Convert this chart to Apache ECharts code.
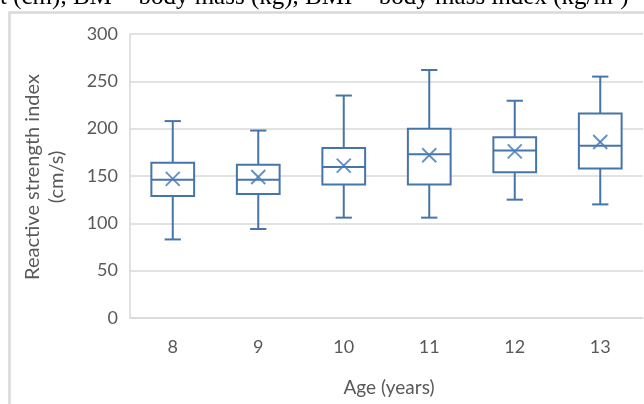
<!DOCTYPE html>
<html><head><meta charset="utf-8">
<script src="https://cdn.jsdelivr.net/npm/echarts@6/dist/echarts.min.js"></script>
<style>html,body{margin:0;padding:0;background:#fff}#c{width:644px;height:404px}</style>
</head><body><div id="c"></div>
<script>
// Data
const ages = ['8', '9', '10', '11', '12', '13'];
const whiskerLow = [83, 94, 106, 106, 125, 120];
const q1 = [129, 131, 141, 141, 154, 158];
const median = [146, 146, 159.5, 173, 177, 182];
const q3 = [164, 162, 179.5, 200, 191, 216];
const whiskerHigh = [208, 198, 235, 262, 229.5, 255];
const mean = [147, 149, 161, 172, 176, 186];
const yMin = 0, yMax = 300, yStep = 50;
const yTitle = 'Reactive strength index\n(cm/s)';
const xTitle = 'Age (years)';
const topText = 't (cm), BM = body mass (kg), BMI = body mass index (kg/m²)';

const boxData = ages.map((a, i) => [i, whiskerLow[i], q1[i], median[i], q3[i], whiskerHigh[i], mean[i]]);

const BLUE = '#4675A9';
const GRAY_TXT = '#595959';
const GRID = '#D9D9D9';

const chart = echarts.init(document.getElementById('c'), null, {renderer: 'canvas'});
chart.setOption({
  backgroundColor: '#fff',
  animation: false,
  grid: {left: 130, right: 1, top: 34, bottom: 86, containLabel: false},
  xAxis: {
    type: 'category', data: ages,
    axisLine: {show: true, lineStyle: {color: GRID, width: 1.5}},
    axisTick: {show: false},
    axisLabel: {color: GRAY_TXT, fontFamily: 'Lato', fontSize: 18, margin: 20},
    splitLine: {show: false}
  },
  yAxis: {
    type: 'value', min: yMin, max: yMax, interval: yStep,
    axisLine: {show: true, lineStyle: {color: GRID, width: 1.5}},
    axisTick: {show: false},
    axisLabel: {color: GRAY_TXT, fontFamily: 'Lato', fontSize: 18, margin: 12},
    splitLine: {show: true, lineStyle: {color: GRID, width: 1.5}}
  },
  graphic: [
    {type: 'rect', silent: true, shape: {x: 9.5, y: 12.5, width: 800, height: 600},
     style: {fill: 'none', stroke: GRID, lineWidth: 2.5}},
    {type: 'text', x: 0, y: -3, silent: true,
     style: {text: topText, font: '25px "Liberation Serif"', fill: '#000', align: 'left', verticalAlign: 'middle'}},
    {type: 'text', x: 45, y: 177, rotation: Math.PI / 2, silent: true,
     style: {text: yTitle, font: '20px Lato', fill: GRAY_TXT, align: 'center', verticalAlign: 'middle', lineHeight: 24}},
    {type: 'text', x: 389, y: 388, silent: true,
     style: {text: xTitle, font: '19px Lato', fill: GRAY_TXT, align: 'center', verticalAlign: 'middle'}}
  ],
  series: [{
    type: 'custom',
    data: boxData,
    encode: {x: 0, y: [1, 2, 3, 4, 5, 6]},
    renderItem: function (params, api) {
      const i = api.value(0);
      const band = api.size([1, 0])[0];
      const bw = band * 0.5, cw = band * 0.19, mx = 7;
      const x = api.coord([i, 0])[0];
      const yLo = api.coord([i, api.value(1)])[1];
      const yQ1 = api.coord([i, api.value(2)])[1];
      const yMed = api.coord([i, api.value(3)])[1];
      const yQ3 = api.coord([i, api.value(4)])[1];
      const yHi = api.coord([i, api.value(5)])[1];
      const yMean = api.coord([i, api.value(6)])[1];
      const st = {stroke: BLUE, lineWidth: 2, fill: 'none'};
      const mst = {stroke: '#4A7EBB', lineWidth: 2, opacity: 0.85};
      return {
        type: 'group',
        children: [
          {type: 'line', shape: {x1: x, y1: yQ1, x2: x, y2: yLo}, style: st},
          {type: 'line', shape: {x1: x - cw / 2, y1: yLo, x2: x + cw / 2, y2: yLo}, style: st},
          {type: 'line', shape: {x1: x, y1: yQ3, x2: x, y2: yHi}, style: st},
          {type: 'line', shape: {x1: x - cw / 2, y1: yHi, x2: x + cw / 2, y2: yHi}, style: st},
          {type: 'rect', shape: {x: x - bw / 2, y: yQ3, width: bw, height: yQ1 - yQ3}, style: {stroke: BLUE, lineWidth: 2, fill: '#fff'}},
          {type: 'line', shape: {x1: x - bw / 2, y1: yMed, x2: x + bw / 2, y2: yMed}, style: st},
          {type: 'line', shape: {x1: x - mx, y1: yMean - mx, x2: x + mx, y2: yMean + mx}, style: mst},
          {type: 'line', shape: {x1: x - mx, y1: yMean + mx, x2: x + mx, y2: yMean - mx}, style: mst}
        ]
      };
    }
  }]
});
</script></body></html>
